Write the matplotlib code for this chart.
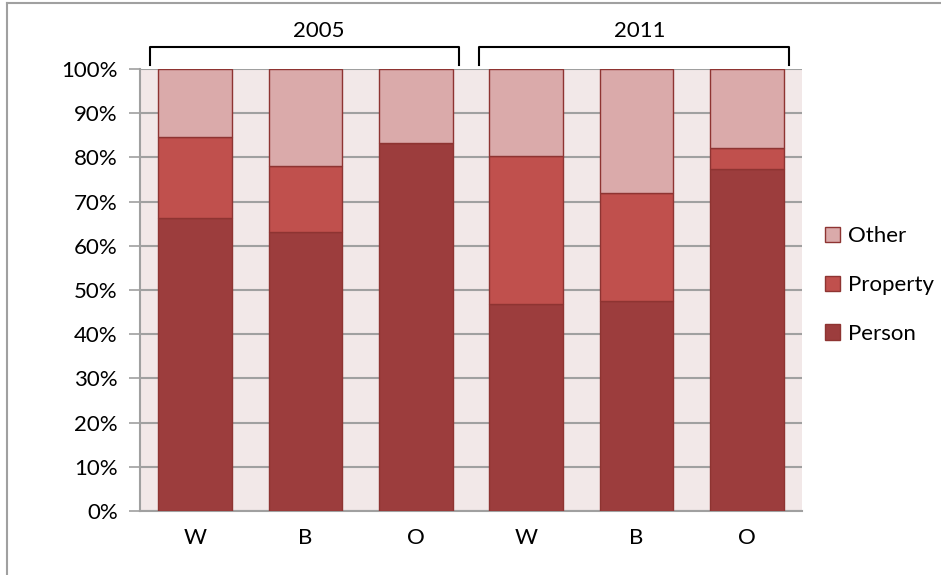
import numpy as np
import matplotlib.pyplot as plt
import matplotlib.transforms as mtransforms
from matplotlib.patches import Patch
from matplotlib.lines import Line2D

plt.rcParams['font.family'] = ['Lato', 'DejaVu Sans']

# data (percent of total)
years = ["2005", "2011"]
races = ["W", "B", "O", "W", "B", "O"]
person = [66.4, 63.2, 83.3, 46.9, 47.4, 77.3]
property_ = [18.3, 14.9, 0.0, 33.4, 24.6, 4.8]
other = [15.3, 21.9, 16.7, 19.7, 28.0, 17.9]

c_person = "#9C3D3D"
c_property = "#C0504D"
c_other = "#DAAAAA"
edge = "#8E3432"
fs = 16

fig = plt.figure(figsize=(9.41, 5.75), dpi=100)
ax = fig.add_axes([0.1488, 0.1113, 0.7035, 0.7687])
ax.set_facecolor("#F2E8E8")

x = np.arange(len(races))
w = 0.67
b1 = np.array(person)
b2 = b1 + np.array(property_)
ax.bar(x, person, w, color=c_person, edgecolor=edge, linewidth=1, zorder=3)
ax.bar(x, property_, w, bottom=b1, color=c_property, edgecolor=edge, linewidth=1, zorder=3)
ax.bar(x, other, w, bottom=b2, color=c_other, edgecolor=edge, linewidth=1, zorder=3)

ax.set_xlim(-0.5, len(races) - 0.5)
ax.set_ylim(0, 100)
ax.set_yticks(np.arange(0, 101, 10))
ax.set_yticklabels([f"{v}%" for v in range(0, 101, 10)], fontsize=fs)
ax.set_xticks(x)
ax.set_xticklabels(races, fontsize=fs)
ax.tick_params(axis='x', length=0, pad=12)
ax.tick_params(axis='y', length=8, color="#A0A0A0", width=1.2, pad=8)
ax.yaxis.grid(True, color="#A0A0A0", linewidth=1.5, zorder=1)
for s in ["top", "right"]:
    ax.spines[s].set_visible(False)
for s in ["left", "bottom"]:
    ax.spines[s].set_color("#A0A0A0")
    ax.spines[s].set_linewidth(1.5)

# year brackets above the bars
trans = mtransforms.blended_transform_factory(ax.transData, ax.transAxes)
spans = [(-0.41, 2.39), (2.57, 5.38)]
label_x = [1.12, 4.03]
for (x0, x1), lx, yr in zip(spans, label_x, years):
    ax.plot([x0, x0, x1, x1], [1.009, 1.05, 1.05, 1.009], color="black",
            linewidth=1.5, transform=trans, clip_on=False)
    ax.text(lx, 1.085, yr, transform=trans, ha="center", va="center", fontsize=fs)

handles = [Patch(facecolor=c_other, edgecolor=edge, label="Other"),
           Patch(facecolor=c_property, edgecolor=edge, label="Property"),
           Patch(facecolor=c_person, edgecolor=edge, label="Person")]
fig.legend(handles=handles, loc="center left", bbox_to_anchor=(825 / 941, 1 - 285 / 575),
           frameon=False, fontsize=fs, handlelength=0.68, handleheight=0.68,
           handletextpad=0.35, labelspacing=1.29, borderpad=0, borderaxespad=0)

# chart area border (left and top edges visible)
fig.add_artist(Line2D([7 / 941, 7 / 941], [0, 1 - 3 / 575], color="#A0A0A0", linewidth=1.5))
fig.add_artist(Line2D([7 / 941, 1], [1 - 3 / 575, 1 - 3 / 575], color="#A0A0A0", linewidth=1.5))

fig.savefig("out.png", dpi=100)
